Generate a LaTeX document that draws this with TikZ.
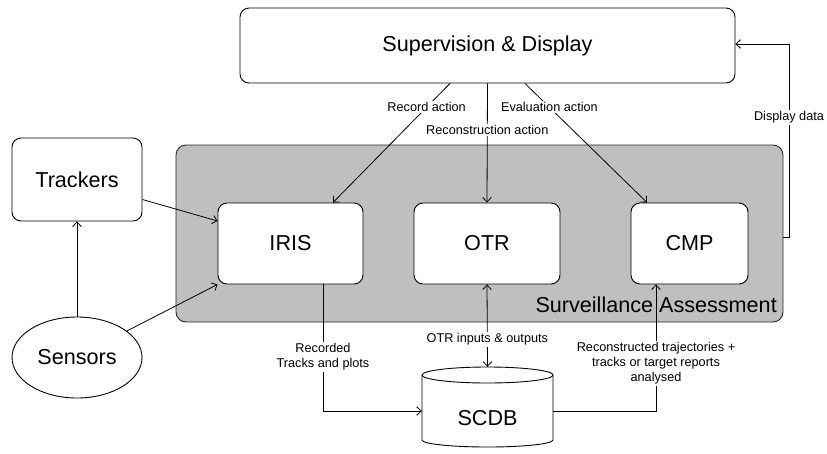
\documentclass[tikz,border=0pt]{standalone}
\usepackage{fontspec}
\setmainfont{Liberation Sans}
\usetikzlibrary{arrows.meta,shapes.geometric}

\begin{document}
\begin{tikzpicture}[x=1pt,y=-1pt,
  bigtxt/.style={font=\fontsize{21.6}{25}\selectfont},
  box/.style={draw, rounded corners=9pt, line width=0.9pt, fill=white,
    inner sep=0pt, bigtxt},
  lbl/.style={font=\fontsize{12.7}{15}\selectfont, align=center, inner sep=1.5pt},
  onl/.style={lbl, fill=white},
  arr/.style={line width=0.8pt, -{Straight Barb[length=4.5pt,width=8.5pt]}},
  arrboth/.style={line width=0.8pt, {Straight Barb[length=4.5pt,width=8.5pt]}-{Straight Barb[length=4.5pt,width=8.5pt]}}]

\useasboundingbox (0,0) rectangle (827,453);

% surveillance assessment container
\node[draw=black!85, line width=0.9pt, fill=black!25, rounded corners=10pt,
      minimum width=607pt, minimum height=177pt, inner sep=0pt] (sa) at (479.5,233.5) {};
\node[bigtxt, anchor=east, inner sep=0pt] (satitle) at (777,305) {Surveillance Assessment};

% boxes
\node[box, minimum width=495pt, minimum height=75pt] (super) at (487.5,45.5) {Supervision \& Display};
\node[box, minimum width=130pt, minimum height=83pt] (trackers) at (77,179.5) {Trackers};
\node[box, minimum width=145pt, minimum height=81pt] (iris) at (290.5,243.5) {IRIS};
\node[box, minimum width=146pt, minimum height=81pt] (otr) at (487,243.5) {OTR};
\node[box, minimum width=117pt, minimum height=81pt] (cmp) at (689.5,243.5) {CMP};
\node[draw, ellipse, line width=0.9pt, minimum width=130pt, minimum height=81pt,
      inner sep=0pt, bigtxt] (sensors) at (77,357.5) {Sensors};

% SCDB database cylinder
\fill[white] (422,375) -- (422,440) arc[start angle=180,end angle=360,x radius=65.5pt,y radius=7pt]
  -- (553,375) arc[start angle=0,end angle=180,x radius=65.5pt,y radius=8pt] -- cycle;
\draw[line width=0.9pt] (422,375) -- (422,440) arc[start angle=180,end angle=360,x radius=65.5pt,y radius=7pt]
  -- (553,375);
\draw[line width=0.9pt] (487.5,375) ellipse[x radius=65.5pt, y radius=8pt];
\node[inner sep=0pt, minimum width=131pt, minimum height=88pt] (scdb) at (487.5,411) {};
\node[bigtxt, inner sep=0pt] (scdbtxt) at (487.5,418) {SCDB};

% inputs
\draw[arr] (sensors.north) -- (trackers.south);
\draw[arr] ([yshift=-20pt]trackers.east) -- ([yshift=22.5pt]iris.west);
\draw[arr] (sensors.28) -- (iris.south west);

% actions from supervision
\draw[arr] ([xshift=-37.5pt]super.south) -- node[onl, pos=0.2] {Record action} ([xshift=42.5pt]iris.north);
\draw[arr] (super.south) -- node[onl, pos=0.39] {Reconstruction action} (otr.north);
\draw[arr] ([xshift=37.5pt]super.south) -- node[onl, pos=0.2] {Evaluation action} ([xshift=-42.5pt]cmp.north);

% display data back to supervision
\coordinate (dd1) at (789,237);
\coordinate (dd2) at (789,44);
\draw[arr] (sa.east |- dd1) -- (dd1) -- node[onl, pos=0.62] {Display data} (dd2) -- (super.east |- dd2);

% database links
\draw[arr] ([xshift=32.5pt]iris.south) |- node[onl, pos=0.287] {Recorded\\Tracks and plots} (scdb.west);
\draw[arrboth] (otr.south) -- node[onl, pos=0.67] {OTR inputs \& outputs} (scdb.north);
\draw[arr] (scdb.east) -| node[onl, pos=0.689] {Reconstructed trajectories +\\tracks or target reports\\analysed} ([xshift=-33.5pt]cmp.south);

\end{tikzpicture}
\end{document}
